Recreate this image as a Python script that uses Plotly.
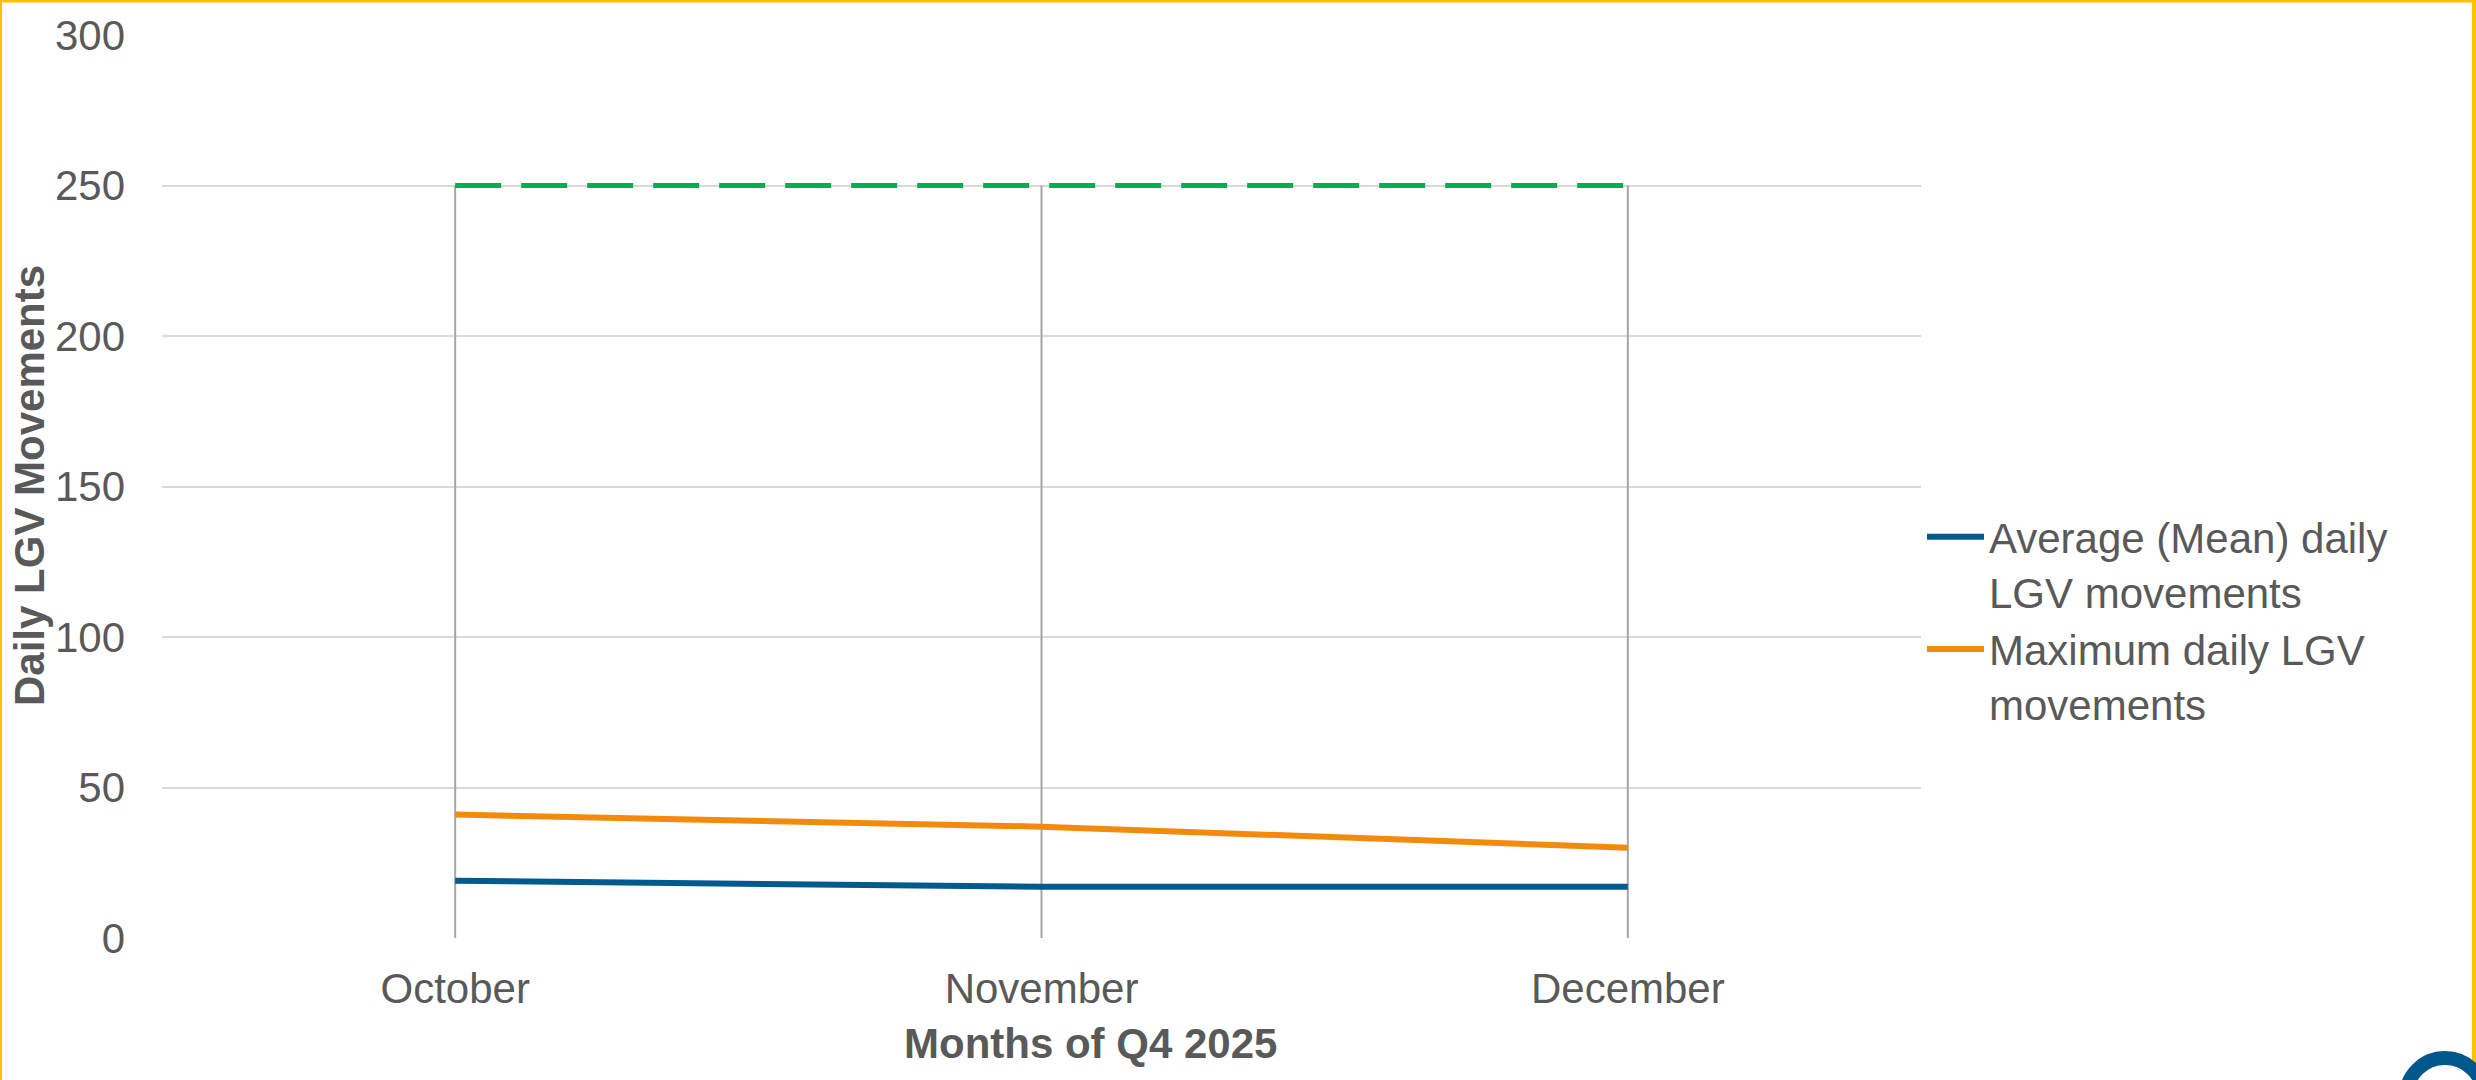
import plotly.graph_objects as go

# ---- data ----
months = ["October", "November", "December"]
avg_daily = [19, 17, 17]
max_daily = [41, 37, 30]
target = [250, 250, 250]
y_ticks = [0, 50, 100, 150, 200, 250, 300]

W, H = 2476, 1080
L, R, T, B = 162, 1921, 35, 938  # plot area pixel box


def px_x(p):
    return (p - L) / (R - L)


def px_y(p):
    return (B - p) / (B - T)


TXT = "#595959"
FONT = "Liberation Sans, Arial, sans-serif"

fig = go.Figure()

# drop lines from axis up to target
dx, dy = [], []
for m, t in zip(months, target):
    dx += [m, m, None]
    dy += [0, t, None]
fig.add_trace(go.Scatter(x=dx, y=dy, mode="lines",
                         line=dict(color="#A6A6A6", width=2),
                         showlegend=False, hoverinfo="skip"))

fig.add_trace(go.Scatter(x=months, y=target, mode="lines",
                         line=dict(color="#00B050", width=5, dash="46px,20px"),
                         showlegend=False, name="Target"))

fig.add_trace(go.Scatter(x=months, y=avg_daily, mode="lines",
                         name="Average (Mean) daily<br>LGV movements",
                         line=dict(color="#005A8E", width=6)))
fig.add_trace(go.Scatter(x=months, y=max_daily, mode="lines",
                         name="Maximum daily LGV<br>movements",
                         line=dict(color="#F28A0E", width=6)))

shapes = []
border = "#FFC000"
# figure border (left, top, right)
shapes.append(dict(type="line", xref="paper", yref="paper",
                   x0=px_x(1), x1=px_x(1), y0=px_y(0), y1=px_y(H),
                   line=dict(color=border, width=2)))
shapes.append(dict(type="line", xref="paper", yref="paper",
                   x0=px_x(0), x1=px_x(W), y0=px_y(1), y1=px_y(1),
                   line=dict(color=border, width=3)))
shapes.append(dict(type="line", xref="paper", yref="paper",
                   x0=px_x(W - 2), x1=px_x(W - 2), y0=px_y(0), y1=px_y(H),
                   line=dict(color=border, width=4)))
# partial logo ring at bottom right
cx, cy, r = 2445, 1097, 39
shapes.append(dict(type="circle", xref="paper", yref="paper",
                   x0=px_x(cx - r), x1=px_x(cx + r), y0=px_y(cy + r), y1=px_y(cy - r),
                   line=dict(color="#00578A", width=14)))

annotations = [
    dict(text="<b>Months of Q4 2025</b>", xref="paper", yref="paper",
         x=px_x(1090), y=px_y(1043), xanchor="center", yanchor="middle",
         showarrow=False, font=dict(family=FONT, size=42, color=TXT)),
    dict(text="<b>Daily LGV Movements</b>", xref="paper", yref="paper",
         x=px_x(29), y=px_y(486), xanchor="center", yanchor="middle",
         textangle=-90, showarrow=False, font=dict(family=FONT, size=42, color=TXT)),
]

fig.update_layout(
    width=W, height=H,
    margin=dict(l=L, r=W - R, t=T, b=H - B, pad=0),
    paper_bgcolor="white", plot_bgcolor="white",
    font=dict(family=FONT, size=42, color=TXT),
    shapes=shapes, annotations=annotations,
    legend=dict(x=px_x(1922), y=px_y(503), xanchor="left", yanchor="top",
                valign="top", font=dict(family=FONT, size=42, color=TXT),
                bgcolor="rgba(0,0,0,0)", tracegroupgap=0, itemwidth=57),
    xaxis=dict(type="category", categoryorder="array", categoryarray=months,
               range=[-0.5, 2.5], showgrid=False, zeroline=False, showline=False,
               ticks="", ticklabelstandoff=22, tickfont=dict(size=42, color=TXT)),
    yaxis=dict(range=[0, 300], tickvals=y_ticks, showgrid=True, gridcolor="#D9D9D9",
               gridwidth=2, zeroline=False, showline=False, ticks="",
               ticklabelstandoff=36, tickfont=dict(size=42, color=TXT)),
)

fig.write_html("out.html", config={"displayModeBar": False},
               post_script="document.body.style.margin='0';")
